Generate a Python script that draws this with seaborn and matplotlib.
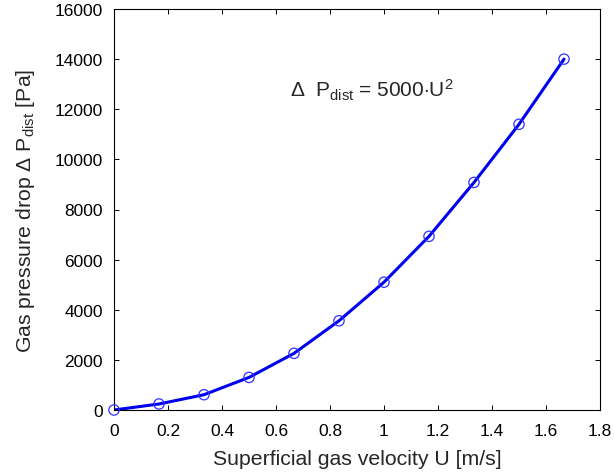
import matplotlib
matplotlib.use("Agg")
import matplotlib.pyplot as plt
import seaborn as sns
import pandas as pd

# Superficial gas velocity [m/s] and measured distributor pressure drop [Pa]
velocity = [0.0, 0.1667, 0.3333, 0.5, 0.6667, 0.8333, 1.0, 1.1667, 1.3333, 1.5, 1.6667]
pressure_drop = [0, 240, 610, 1300, 2260, 3560, 5100, 6930, 9080, 11400, 14000]

x_ticks = [0, 0.2, 0.4, 0.6, 0.8, 1.0, 1.2, 1.4, 1.6, 1.8]
x_tick_labels = ["0", "0.2", "0.4", "0.6", "0.8", "1", "1.2", "1.4", "1.6", "1.8"]
y_ticks = [0, 2000, 4000, 6000, 8000, 10000, 12000, 14000, 16000]

df = pd.DataFrame({"U": velocity, "dP": pressure_drop})

sns.set_style("ticks")
plt.rcParams["font.family"] = ["Liberation Sans", "DejaVu Sans"]
plt.rcParams["mathtext.fontset"] = "custom"
plt.rcParams["mathtext.rm"] = "Liberation Sans"
plt.rcParams["mathtext.it"] = "Liberation Sans:italic"

fig = plt.figure(figsize=(6.14, 4.77), dpi=100)
ax = fig.add_axes([114 / 614, 1 - 411 / 477, 486 / 614, 401 / 477])

sns.lineplot(data=df, x="U", y="dP", ax=ax, color="#0000f0", linewidth=2.2)
sns.scatterplot(data=df, x="U", y="dP", ax=ax, marker="o", s=55,
                facecolors="none", edgecolor="#3030ff", linewidth=0.9,
                zorder=3, clip_on=False)

ax.set_xlim(0, 1.8)
ax.set_ylim(0, 16000)
ax.set_xticks(x_ticks)
ax.set_xticklabels(x_tick_labels)
ax.set_yticks(y_ticks)

ax.tick_params(direction="in", top=True, right=True, length=3.6, width=0.7,
               labelsize=12.5, colors="black")
ax.tick_params(axis="x", pad=9)
ax.tick_params(axis="y", pad=8)
for spine in ax.spines.values():
    spine.set_visible(True)
    spine.set_linewidth(0.8)
    spine.set_color("black")

ax.set_xlabel("Superficial gas velocity U [m/s]", fontsize=15.3, labelpad=8)
ax.set_ylabel(r"Gas pressure drop $\Delta$ P$_{\mathrm{dist}}$ [Pa]",
              fontsize=15.3, labelpad=13)

ax.text(0.954, 12520, r"$\Delta$  P$_{\mathrm{dist}}$ = 5000$\cdot$U$^2$",
        fontsize=15, ha="center", va="baseline")

fig.savefig("out.png", dpi=100)
